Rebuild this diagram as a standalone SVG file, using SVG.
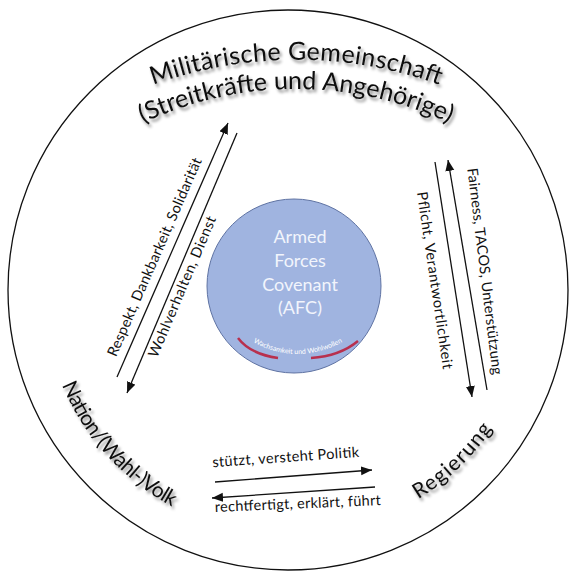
<svg xmlns="http://www.w3.org/2000/svg" width="570" height="577" viewBox="0 0 570 577">
<style>
.lbl{font-family:Lato,"Open Sans","Liberation Sans",sans-serif;fill:#111}
.big{font-size:25px}
.node{font-size:21px}
.small{font-size:14.5px}
.afc{font-family:Lato,"Open Sans","Liberation Sans",sans-serif;font-size:18px;fill:#f2f5fc;text-anchor:middle}
.con{stroke:#111;stroke-width:1.3;fill:none;marker-end:url(#ah)}
.shadow{filter:url(#sh)}
</style>
<defs>
<marker id="ah" markerUnits="userSpaceOnUse" markerWidth="12" markerHeight="10" refX="11" refY="4.5" orient="auto">
<path d="M0,0 L11,4.5 L0,9 z" fill="#111"/>
</marker>
<filter id="sh" x="-20%" y="-40%" width="140%" height="180%">
<feDropShadow dx="2" dy="3" stdDeviation="1.6" flood-color="#000" flood-opacity="0.45"/>
</filter>
<path id="t1" d="M153,85 A421,421 0 0 1 440,85"/>
<path id="t2" d="M143,123 A361,361 0 0 1 449,123"/>
<path id="tn" d="M62,385 A246,246 0 0 0 172.4,506.6"/>
<path id="tr" d="M418.3,499.3 A246,246 0 0 0 492.5,428.3"/>
<path id="ts" d="M240,334 Q297,374 356,334"/>
</defs>
<rect width="570" height="577" fill="#fff"/>
<g id="outer">
<circle cx="288" cy="290" r="280" fill="none" stroke="#111" stroke-width="1.3"/>
</g>
<g id="node-military" class="shadow">
<text class="lbl big"><textPath href="#t1" textLength="292" lengthAdjust="spacing">Militärische Gemeinschaft</textPath></text>
<text class="lbl big"><textPath href="#t2" textLength="316" lengthAdjust="spacing">(Streitkräfte und Angehörige)</textPath></text>
</g>
<g id="node-nation" class="shadow">
<text class="lbl node"><textPath href="#tn" textLength="167" lengthAdjust="spacing">Nation/(Wahl-)Volk</textPath></text>
</g>
<g id="node-regierung" class="shadow">
<text class="lbl node"><textPath href="#tr" textLength="103" lengthAdjust="spacing">Regierung</textPath></text>
</g>
<g id="node-afc">
<circle cx="294" cy="286" r="87" fill="#a0b4e0" stroke="#5f73a3" stroke-width="1"/>
<text class="afc" x="300" y="243">Armed</text>
<text class="afc" x="300" y="267">Forces</text>
<text class="afc" x="300" y="291">Covenant</text>
<text class="afc" x="300" y="314">(AFC)</text>
<path d="M238,338 Q250,354 278,358" fill="none" stroke="#b8304e" stroke-width="2.5"/>
<path d="M311,358 Q340,356 358,341" fill="none" stroke="#b8304e" stroke-width="2.5"/>
<text font-family="Lato,'Open Sans',sans-serif" font-size="7" fill="#fff"><textPath href="#ts" startOffset="50%" text-anchor="middle">Wachsamkeit und Wohlwollen</textPath></text>
</g>
<g id="connectors">
<line class="con" x1="117" y1="377" x2="228" y2="123"/>
<line class="con" x1="237" y1="133" x2="127" y2="393"/>
<line class="con" x1="435" y1="162" x2="472" y2="397"/>
<line class="con" x1="487" y1="390" x2="448" y2="160"/>
<line class="con" x1="215" y1="482" x2="372" y2="470"/>
<line class="con" x1="375" y1="487" x2="212" y2="498"/>
<text class="lbl small" text-anchor="middle" transform="translate(159,259) rotate(-66.4)" textLength="215" lengthAdjust="spacing">Respekt, Dankbarkeit, Solidarität</text>
<text class="lbl small" text-anchor="middle" transform="translate(186.7,288.6) rotate(-67)" textLength="152" lengthAdjust="spacing">Wohlverhalten, Dienst</text>
<text class="lbl small" text-anchor="middle" transform="translate(480,272) rotate(83)" textLength="208" lengthAdjust="spacing">Fairness, TACOS, Unterstützung</text>
<text class="lbl small" text-anchor="middle" transform="translate(430,281) rotate(81.6)" textLength="179" lengthAdjust="spacing">Pflicht, Verantwortlichkeit</text>
<text class="lbl small" text-anchor="middle" transform="translate(286,462) rotate(-4)" textLength="147" lengthAdjust="spacing">stützt, versteht Politik</text>
<text class="lbl small" text-anchor="middle" transform="translate(298,508.5) rotate(-2.4)" textLength="166" lengthAdjust="spacing">rechtfertigt, erklärt, führt</text>
</g>
</svg>
